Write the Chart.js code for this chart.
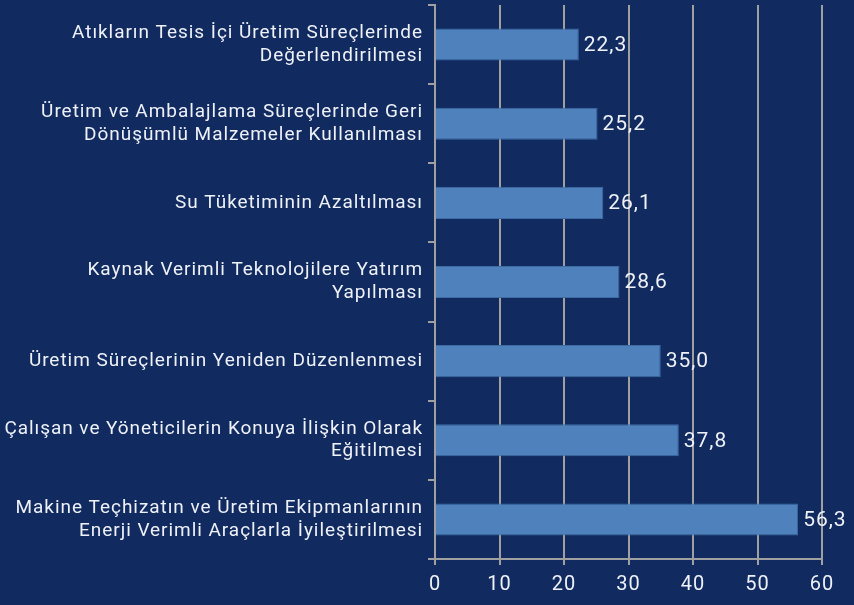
<!DOCTYPE html>
<html>
<head>
<meta charset="utf-8">
<script src="https://cdn.jsdelivr.net/npm/chart.js@4.4.1/dist/chart.umd.min.js"></script>
<style>
  html, body { margin: 0; padding: 0; background: #112a5f; }
  #wrap { width: 854px; height: 605px; }
</style>
</head>
<body>
<div id="wrap"><canvas id="chart"></canvas></div>
<script>
const categories = [
    ["Atıkların Tesis İçi Üretim Süreçlerinde", "Değerlendirilmesi"],
    ["Üretim ve Ambalajlama Süreçlerinde Geri", "Dönüşümlü Malzemeler Kullanılması"],
    "Su Tüketiminin Azaltılması",
    ["Kaynak Verimli Teknolojilere Yatırım", "Yapılması"],
    "Üretim Süreçlerinin Yeniden Düzenlenmesi",
    ["Çalışan ve Yöneticilerin Konuya İlişkin Olarak", "Eğitilmesi"],
    ["Makine Teçhizatın ve Üretim Ekipmanlarının", "Enerji Verimli Araçlarla İyileştirilmesi"]
];
const values = [22.3, 25.2, 26.1, 28.6, 35.0, 37.8, 56.3];
const xTicks = [0, 10, 20, 30, 40, 50, 60];

const bg = "#112a5f";
const gridCol = "#a0a0a0";
const textCol = "#eef1f7";
const fontFam = "Roboto, 'DejaVu Sans', sans-serif";

// background, letter spacing and value labels next to bars
const labelPlugin = {
    id: "labels",
    beforeDraw(chart) {
        const c = chart.ctx;
        c.save();
        c.fillStyle = bg;
        c.fillRect(0, 0, chart.width, chart.height);
        c.restore();
        c.letterSpacing = "0.95px";
    },
    afterDatasetsDraw(chart) {
        const c = chart.ctx;
        const meta = chart.getDatasetMeta(0);
        c.save();
        c.font = "21px " + fontFam;
        c.fillStyle = textCol;
        c.textBaseline = "middle";
        c.textAlign = "left";
        meta.data.forEach((bar, i) => {
            c.fillText(values[i].toFixed(1).replace(".", ","), bar.x + 5, bar.y + 1);
        });
        c.restore();
    }
};

new Chart(document.getElementById("chart"), {
    type: "bar",
    data: {
        labels: categories,
        datasets: [{
            data: values,
            backgroundColor: "#4f81bd",
            borderColor: "#3d6ba3",
            borderWidth: 1,
            barPercentage: 0.9,
            categoryPercentage: 0.45
        }]
    },
    options: {
        indexAxis: "y",
        responsive: true,
        maintainAspectRatio: false,
        animation: false,
        layout: { padding: { top: 5, right: 32, left: 0, bottom: 0 } },
        plugins: {
            legend: { display: false },
            tooltip: { enabled: false }
        },
        scales: {
            x: {
                min: 0,
                max: 60,
                afterBuildTicks: s => { s.ticks = xTicks.map(v => ({ value: v })); },
                grid: { color: gridCol, lineWidth: 2, tickLength: 6 },
                border: { color: gridCol, width: 2 },
                ticks: { color: textCol, font: { size: 20, family: fontFam }, padding: 8, maxRotation: 0 }
            },
            y: {
                afterFit: s => { s.width = 435; s.paddingTop = 0; s.paddingBottom = 0; },
                grid: { color: gridCol, lineWidth: 2, drawOnChartArea: false, tickLength: 7, offset: true },
                border: { color: gridCol, width: 2 },
                ticks: { color: textCol, font: { size: 19, family: fontFam, lineHeight: 1.2 }, padding: 5, autoSkip: false }
            }
        }
    },
    plugins: [labelPlugin]
});
</script>
</body>
</html>
